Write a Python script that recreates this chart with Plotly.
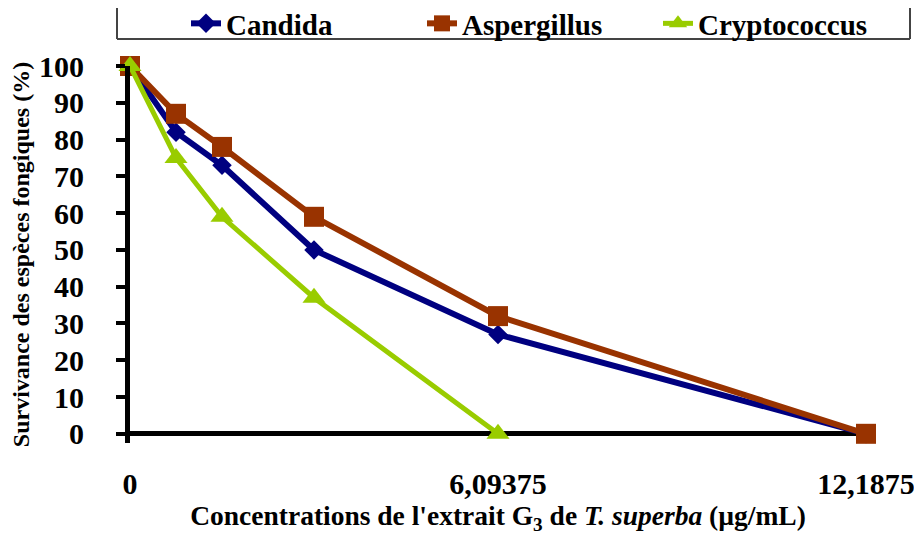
import plotly.graph_objects as go

concentrations = [0, 0.76171875, 1.5234375, 3.046875, 6.09375, 12.1875]
candida = [100, 82, 73, 50, 27, 0]
aspergillus = [100, 87, 78, 59, 32, 0]
cryptococcus = [100, 75, 59, 37, 0, None]
series_names = ["Candida", "Aspergillus", "Cryptococcus"]

x_tickvals = [0, 6.09375, 12.1875]
x_ticktext = ["0", "6,09375", "12,1875"]
y_tickvals = [0, 10, 20, 30, 40, 50, 60, 70, 80, 90, 100]

FONT = "Liberation Serif"

fig = go.Figure()
fig.add_trace(go.Scatter(
    x=concentrations, y=candida, name=series_names[0], mode="lines+markers",
    line=dict(color="#000080", width=6),
    marker=dict(symbol="diamond", size=15, color="#000080"),
    cliponaxis=False))
fig.add_trace(go.Scatter(
    x=concentrations, y=aspergillus, name=series_names[1], mode="lines+markers",
    line=dict(color="#993300", width=6),
    marker=dict(symbol="square", size=20, color="#993300"),
    cliponaxis=False))
fig.add_trace(go.Scatter(
    x=concentrations, y=cryptococcus, name=series_names[2], mode="lines+markers",
    line=dict(color="#99CC00", width=5),
    marker=dict(symbol="triangle-up", size=20, color="#99CC00"),
    cliponaxis=False))

OFF = 8  # page body margin
W, H = 922 - OFF, 536 - OFF
L, R, T, B = 130 - OFF, 56, 66 - OFF, 93
pw, ph = W - L - R, H - T - B

def px2paper_x(px):
    return (px - OFF - L) / pw

def px2paper_y(py):
    return (H - B - (py - OFF)) / ph

border = dict(color="#444444", width=2)
shapes = [
    dict(type="line", xref="paper", yref="paper",
         x0=px2paper_x(117), x1=px2paper_x(117), y0=px2paper_y(39), y1=px2paper_y(-10), line=border),
    dict(type="line", xref="paper", yref="paper",
         x0=px2paper_x(117), x1=px2paper_x(910), y0=px2paper_y(39), y1=px2paper_y(39), line=border),
    dict(type="line", xref="paper", yref="paper",
         x0=px2paper_x(910), x1=px2paper_x(910), y0=px2paper_y(39), y1=px2paper_y(-10), line=border),
]

fig.update_layout(
    width=W, height=H,
    margin=dict(l=L, r=R, t=T, b=B, autoexpand=False),
    paper_bgcolor="white", plot_bgcolor="white",
    font=dict(family=FONT, color="black", weight="bold"),
    showlegend=True,
    legend=dict(orientation="h", x=px2paper_x(186), y=px2paper_y(-2), xanchor="left", yanchor="top",
                font=dict(family=FONT, size=29, color="black", weight="bold"),
                entrywidth=191, entrywidthmode="pixels",
                bgcolor="rgba(0,0,0,0)", borderwidth=0),
    shapes=shapes,
    xaxis=dict(range=[0, 12.1875], tickvals=x_tickvals, ticktext=x_ticktext,
               showgrid=False, zeroline=False, showline=False, ticks="",
               tickfont=dict(family=FONT, size=30, color="black", weight="bold"),
               ticklabelstandoff=20,
               title=dict(text="Concentrations de l'extrait G<sub>3</sub> de <i>T. superba</i> (µg/mL)",
                          font=dict(family=FONT, size=27.5, color="black", weight="bold"),
                          standoff=3)),
    yaxis=dict(range=[-2.5, 100], tickvals=y_tickvals,
               showgrid=False, zeroline=True, zerolinecolor="black", zerolinewidth=5,
               showline=True, linecolor="black", linewidth=5,
               ticks="outside", ticklen=9, tickwidth=4, tickcolor="black",
               tickfont=dict(family=FONT, size=30, color="black", weight="bold"),
               ticklabelstandoff=26,
               title=dict(text="Survivance des espèces fongiques (%)",
                          font=dict(family=FONT, size=24, color="black", weight="bold"),
                          standoff=4)),
)

fig.write_html("out.html")
